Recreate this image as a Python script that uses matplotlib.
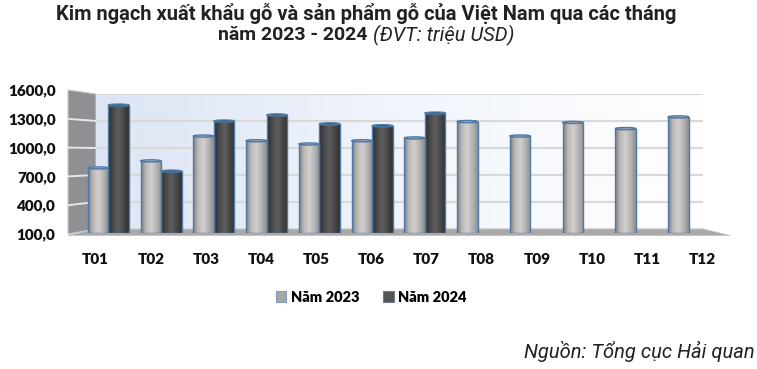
import numpy as np
import matplotlib
matplotlib.use('Agg')
import matplotlib.pyplot as plt
from matplotlib.colors import LinearSegmentedColormap
from matplotlib.patches import Polygon, Patch, Ellipse

"""
Kim ngach xuat khau go - 3D-looking cylinder columns, Excel style
"""

months = ['T01', 'T02', 'T03', 'T04', 'T05', 'T06', 'T07', 'T08', 'T09', 'T10', 'T11', 'T12']
y2023 = [790, 865, 1130, 1080, 1045, 1080, 1110, 1285, 1130, 1275, 1210, 1335]
y2024 = [1460, 755, 1290, 1355, 1260, 1240, 1375]
yticks = [100, 400, 700, 1000, 1300, 1600]
series_labels = ['Năm 2023', 'Năm 2024']

W, H = 757, 369
YMIN, YMAX = 100, 1600

def rect(x0, y0, x1, y1):
	# pixel box (top-left origin) -> figure fraction
	return [x0 / W, 1 - y1 / H, (x1 - x0) / W, (y1 - y0) / H]

fig = plt.figure(figsize=(W / 100, H / 100), dpi=100)
fig.patch.set_facecolor('white')

# background layer in pixel coords for the walls/floor
bg = fig.add_axes([0, 0, 1, 1])
bg.set_xlim(0, W)
bg.set_ylim(H, 0)
bg.axis('off')

# back wall
back = fig.add_axes(rect(96, 94, 703, 229), zorder=1)
grad = np.linspace(0, 1, 256).reshape(1, -1)
wall_cmap = LinearSegmentedColormap.from_list('wall', ['#dde5f4', '#f1f5fc', '#ffffff'])
back.imshow(grad, extent=(0, 1, YMIN, YMAX), aspect='auto', cmap=wall_cmap, zorder=0)
back.set_xlim(0, 1)
back.set_ylim(YMIN, YMAX)
back.set_yticks(yticks)
back.set_xticks([])
back.tick_params(left=False, labelleft=False)
back.grid(axis='y', color='#d9d9d9', lw=1.6, zorder=1)
for s in back.spines.values():
	s.set_visible(False)

# side wall + floor (perspective)
def front_y(v):
	return 234 - (v - YMIN) / (YMAX - YMIN) * 144

def back_y(v):
	return 229 - (v - YMIN) / (YMAX - YMIN) * 135

bg.add_patch(Polygon([(68, front_y(YMAX)), (96, back_y(YMAX)), (96, back_y(YMIN)), (68, front_y(YMIN))],
	closed=True, facecolor='#8e9093', edgecolor='#c8c8c8', lw=0.8))
for v in yticks[1:-1]:
	bg.plot([68, 96], [front_y(v), back_y(v)], color='#e6e6e6', lw=1.4)
bg.add_patch(Polygon([(96, 229), (703, 229), (730, 235.5), (68, 235.5)],
	closed=True, facecolor='#a9a9a9', edgecolor='#c4c4c4', lw=0.6))

# bars (mid depth)
ax = fig.add_axes(rect(82, 92, 715, 232.5), zorder=2)
ax.patch.set_alpha(0)
ax.axis('off')

light_cmap = LinearSegmentedColormap.from_list('light', ['#7d7d7d', '#bdbaba', '#d2cfcf', '#b5b2b2', '#8f8f8f'])
dark_cmap = LinearSegmentedColormap.from_list('dark', ['#2b2b2b', '#4a4a4a', '#5e5e5e', '#474747', '#303030'])
edge = '#4d7aa6'
width = 0.39
x = np.arange(len(months))

def cylinder(xc, val, cmap, top):
	x0, x1 = xc - width / 2, xc + width / 2
	ax.imshow(grad, extent=(x0, x1, YMIN, val), aspect='auto', cmap=cmap, zorder=2)
	ax.bar(xc, val - YMIN, width, bottom=YMIN, fill=False, edgecolor=edge, lw=1.0, zorder=3)
	ax.add_patch(Ellipse((xc, val), width, 22, facecolor=top, edgecolor=edge, lw=1.0, zorder=4))

for i, v in enumerate(y2023):
	cylinder(x[i] - width / 2, v, light_cmap, '#b9b6b6')
for i, v in enumerate(y2024):
	cylinder(x[i] + width / 2, v, dark_cmap, '#444444')

ax.set_xlim(-0.5, len(months) - 0.5)
ax.set_ylim(YMIN, YMAX)

# front plane: tick labels
front = fig.add_axes(rect(68, 90, 730, 234), zorder=3)
front.patch.set_alpha(0)
for s in front.spines.values():
	s.set_visible(False)
front.set_xlim(-0.5, len(months) - 0.5)
front.set_ylim(YMIN, YMAX)
front.set_xticks(x)
front.set_xticklabels(months)
front.set_yticks(yticks)
front.set_yticklabels(['{:.1f}'.format(t).replace('.', ',') for t in yticks])
front.tick_params(length=0)
front.tick_params(axis='x', pad=14)
front.tick_params(axis='y', pad=9)
for lab in front.get_xticklabels() + front.get_yticklabels():
	lab.set_fontfamily('Lato')
	lab.set_fontweight('heavy')
	lab.set_fontsize(11)
	lab.set_color('#111111')

# legend
handles = [Patch(facecolor='#a6a6a6', edgecolor='#7f9cbb', lw=0.8),
	Patch(facecolor='#555555', edgecolor='#6f7f90', lw=0.8)]
fig.legend(handles, series_labels, loc='center', bbox_to_anchor=(371 / W, 1 - 297 / H), ncol=2,
	frameon=False, handlelength=0.75, handleheight=0.75, handletextpad=0.3, columnspacing=1.6,
	prop={'family': 'Lato', 'weight': 'heavy', 'size': 10.5})

# title
fig.text(366 / W, 1 - 13 / H, 'Kim ngạch xuất khẩu gỗ và sản phẩm gỗ của Việt Nam qua các tháng',
	ha='center', va='center', fontfamily='Roboto', fontweight='bold', fontsize=14.5, color='#222222')
fig.text(367 / W, 1 - 35 / H, 'năm 2023 - 2024', ha='right', va='center',
	fontfamily='Roboto', fontweight='bold', fontsize=14, color='#222222')
fig.text(373 / W, 1 - 35 / H, '(ĐVT: triệu USD)', ha='left', va='center',
	fontfamily='Roboto', fontstyle='italic', fontsize=14.5, color='#222222')

# source
fig.text(755 / W, 1 - 352 / H, 'Nguồn: Tổng cục Hải quan', ha='right', va='center',
	fontfamily='Roboto', fontstyle='italic', fontsize=14.5, color='#222222')

fig.savefig('out.png', dpi=100)
